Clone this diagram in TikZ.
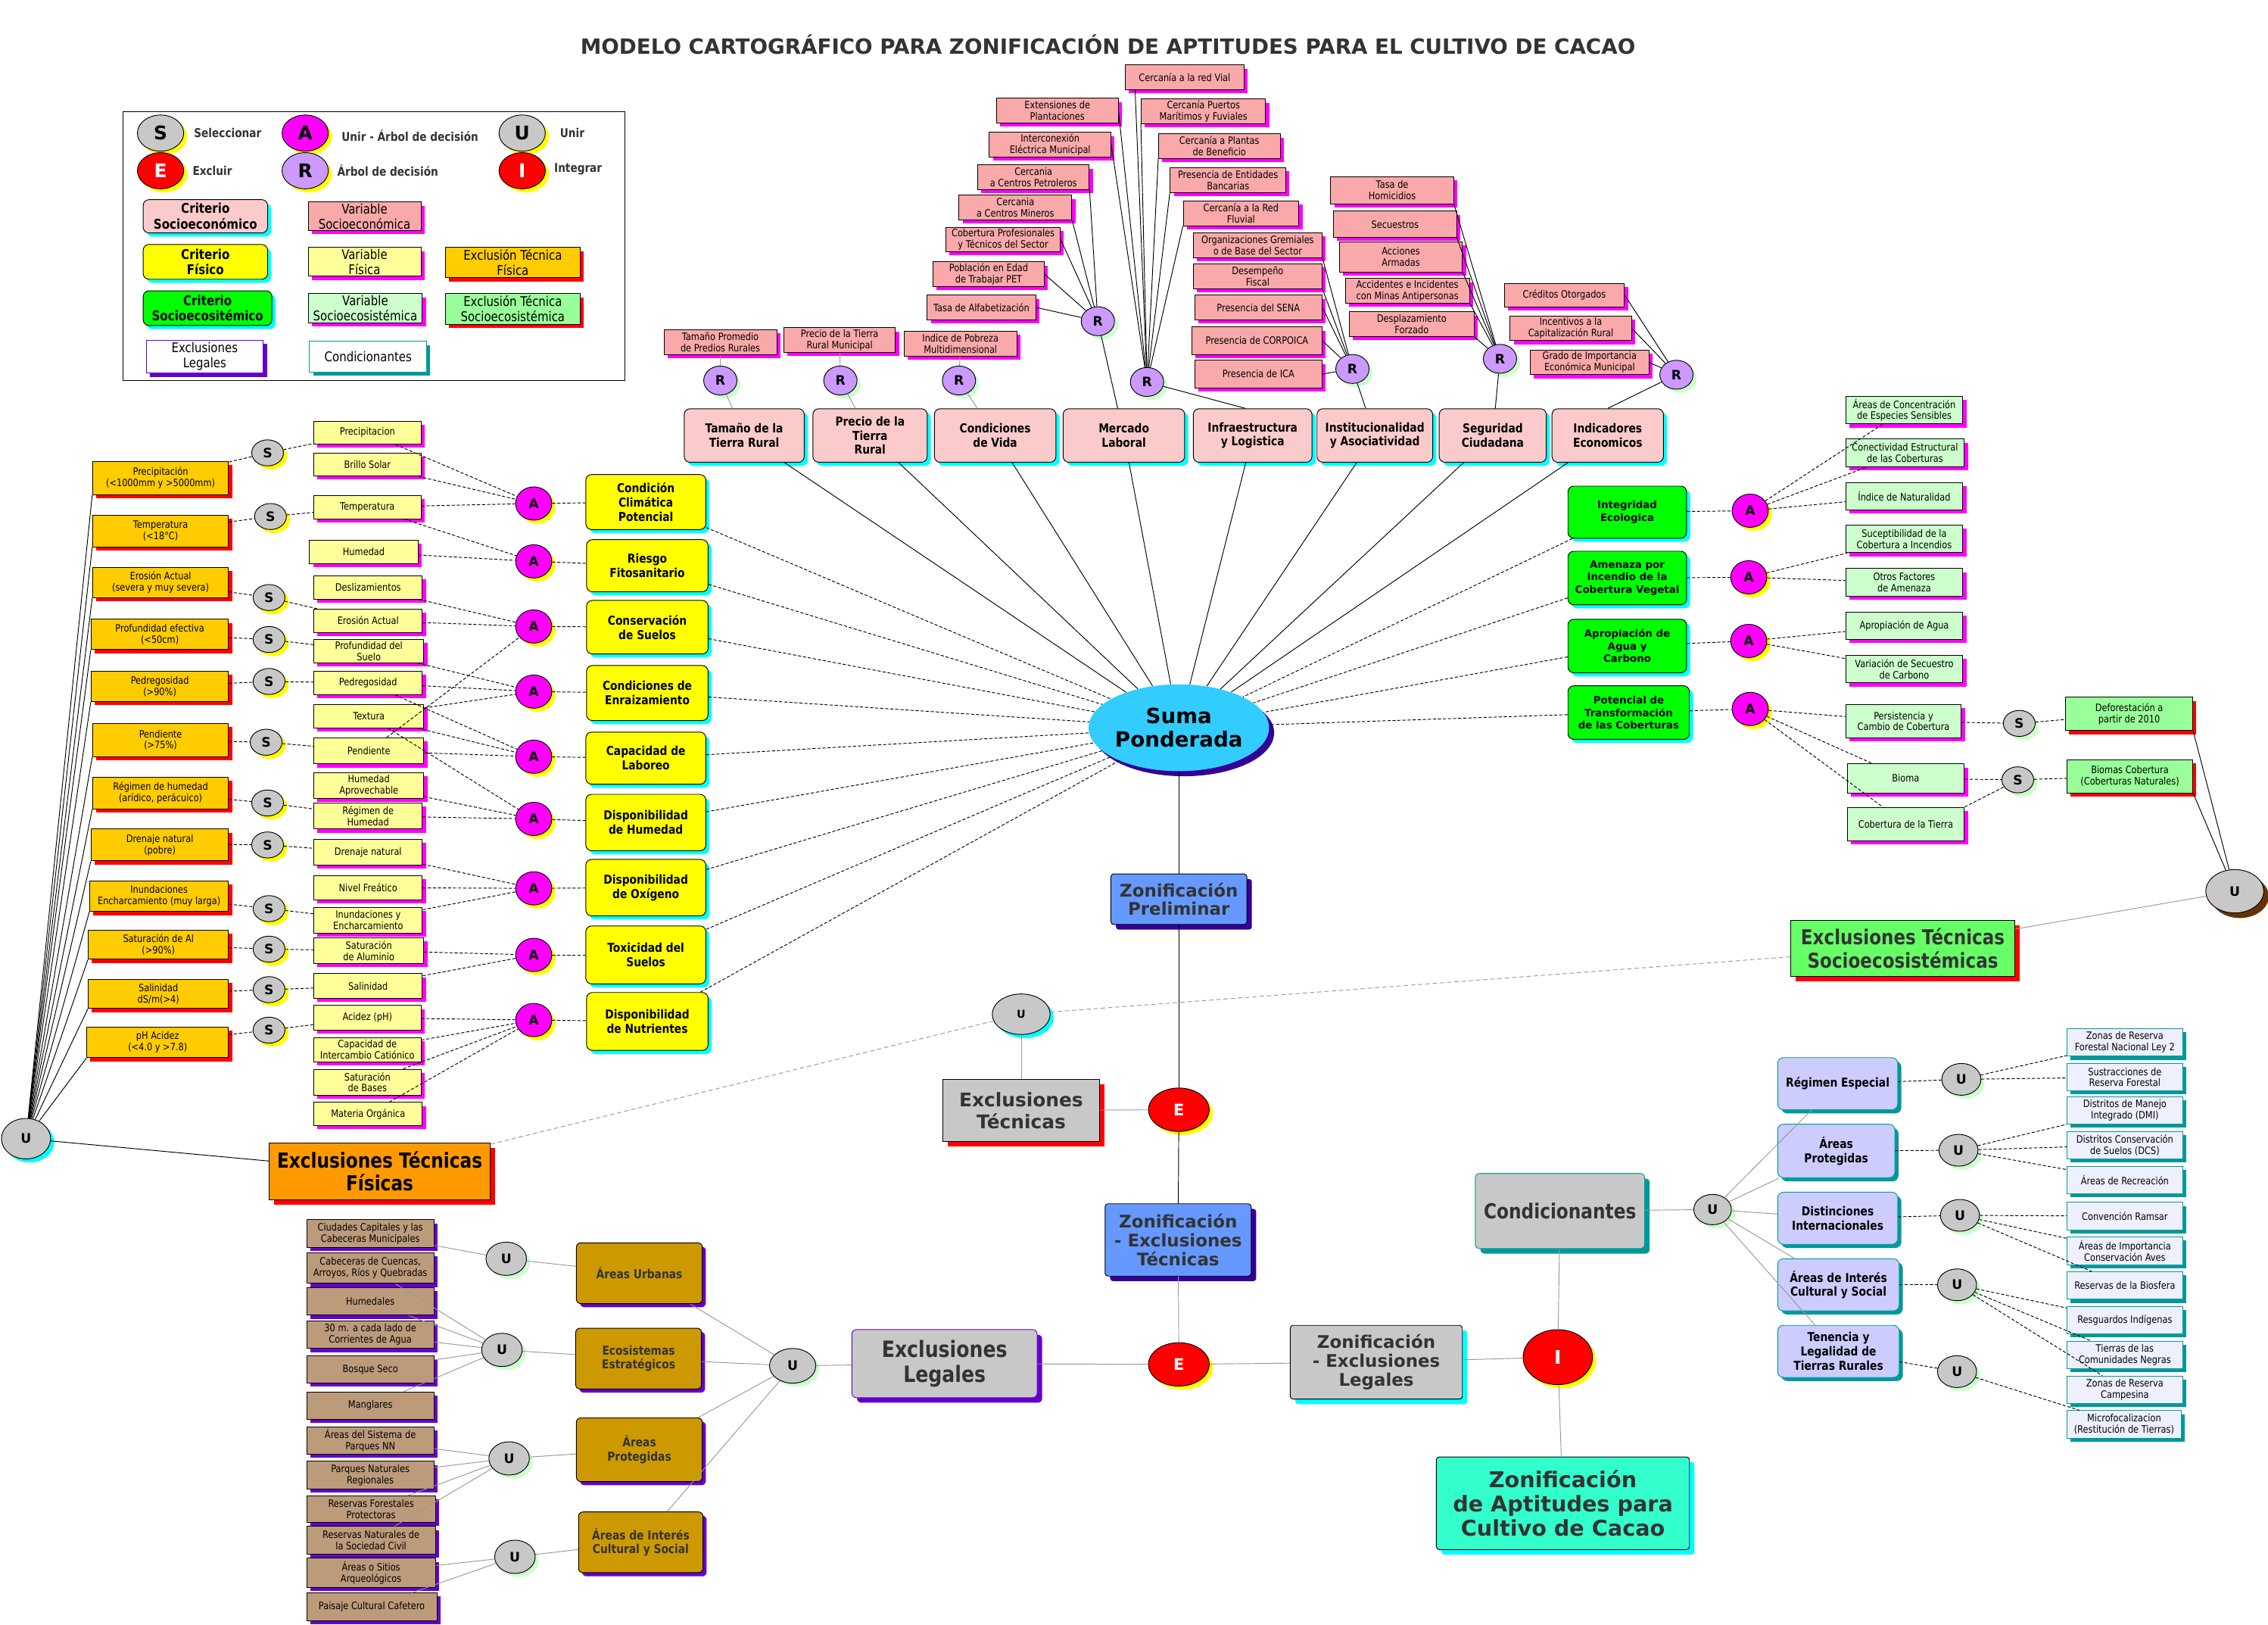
\documentclass[tikz,border=0pt]{standalone}
\usepackage{fontspec}
\setmainfont{DejaVu Sans}
\newfontfamily\narrowfont[FakeStretch=0.85]{DejaVu Sans}
\usetikzlibrary{shapes.geometric,shadows}

\definecolor{critpink}{HTML}{FBCBCB}
\definecolor{varpink}{HTML}{F9A9A9}
\definecolor{varyel}{HTML}{FFFF99}
\definecolor{excorg}{HTML}{FFCC00}
\definecolor{bigorg}{HTML}{FF9900}
\definecolor{critgrn}{HTML}{00FF00}
\definecolor{vargrn}{HTML}{CCFFCC}
\definecolor{excgrn}{HTML}{99FF99}
\definecolor{biggrn}{HTML}{66FF66}
\definecolor{critlila}{HTML}{CCCCFF}
\definecolor{varlila}{HTML}{EEF0FF}
\definecolor{critbrn}{HTML}{CC9900}
\definecolor{varbrn}{HTML}{BC9B7B}
\definecolor{nodegray}{HTML}{C8C8C8}
\definecolor{zonblue}{HTML}{6699FF}
\definecolor{finalaqua}{HTML}{33FFCC}
\definecolor{sumablue}{HTML}{33CCFF}
\definecolor{rlila}{HTML}{CC99FF}
\definecolor{shteal}{HTML}{009999}
\definecolor{shpurple}{HTML}{6600CC}
\definecolor{shnavy}{HTML}{330099}
\definecolor{shbrown}{HTML}{663300}
\definecolor{shmint}{HTML}{CCFFCC}
\definecolor{darktxt}{HTML}{333333}
\definecolor{linegray}{HTML}{999999}
\definecolor{pureyel}{HTML}{FFFF00}
\definecolor{purecyan}{HTML}{00FFFF}
\definecolor{puremag}{HTML}{FF00FF}
\definecolor{purered}{HTML}{FF0000}

\tikzset{
  shad/.style={general shadow={shadow xshift=2.5pt,shadow yshift=-2.5pt,fill=#1,draw=none}},
  shadb/.style={general shadow={shadow xshift=3.5pt,shadow yshift=-3.5pt,fill=#1,draw=none}},
  plainbox/.style={draw, line width=0.5pt, inner sep=1pt, align=center},
  smallfont/.style={font=\narrowfont\fontsize{7}{7.8}\selectfont},
  critfont/.style={font=\narrowfont\bfseries\fontsize{8.5}{9.8}\selectfont},
  pinkcrit/.style={plainbox, critfont, rounded corners=4pt, fill=critpink, shad=purecyan, minimum width=82, minimum height=37},
  pinkvar/.style={plainbox, smallfont, fill=varpink, shad=puremag, minimum width=78, minimum height=17},
  yelcrit/.style={plainbox, critfont, rounded corners=4pt, fill=pureyel, shad=purecyan, minimum width=84, minimum height=38},
  yelvar/.style={plainbox, smallfont, fill=varyel, shad=puremag, minimum width=75, minimum height=16},
  orgexc/.style={plainbox, smallfont, fill=excorg, shad=purered, minimum width=95, minimum height=21},
  grncrit/.style={plainbox, font=\bfseries\fontsize{7}{8.6}\selectfont, rounded corners=4pt, fill=critgrn, shad=purecyan, minimum width=82, minimum height=36},
  grnvar/.style={plainbox, smallfont, fill=vargrn, shad=puremag, minimum width=81, minimum height=19},
  grnexc/.style={plainbox, smallfont, fill=excgrn, shad=purered, minimum width=88, minimum height=23},
  lilcrit/.style={plainbox, critfont, draw=shteal, rounded corners=4pt, fill=critlila, shad=shteal, minimum width=83, minimum height=36},
  lilvar/.style={plainbox, smallfont, draw=shteal, fill=varlila, shad=shteal, minimum width=80, minimum height=19},
  brncrit/.style={plainbox, critfont, text=darktxt, rounded corners=3pt, fill=critbrn, shad=shpurple, minimum width=87, minimum height=42},
  brnvar/.style={plainbox, smallfont, fill=varbrn, shad=shpurple, minimum width=88, minimum height=19},
  oval/.style={ellipse, draw, line width=0.5pt, inner sep=0pt, font=\bfseries\fontsize{9}{9}\selectfont},
  snode/.style={oval, fill=nodegray, shad=pureyel, minimum width=22, minimum height=18},
  anode/.style={oval, fill=puremag, shad=pureyel, minimum width=25, minimum height=23},
  rnode/.style={oval, fill=rlila, shad=shmint, minimum width=23, minimum height=20},
  unode/.style={oval, fill=nodegray, shad=shmint, minimum width=28, minimum height=23},
  enode/.style={oval, fill=purered, text=white, shad=pureyel, minimum width=42, minimum height=30, font=\bfseries\fontsize{11}{11}\selectfont},
  legcirc/.style={oval, shad=pureyel, minimum width=32, minimum height=25, font=\bfseries\fontsize{13}{13}\selectfont},
  legtxt/.style={anchor=west, inner sep=0pt, text=darktxt, font=\narrowfont\bfseries\fontsize{8.4}{9}\selectfont},
  legfont/.style={font=\narrowfont\fontsize{9.2}{10.6}\selectfont},
  legbold/.style={font=\narrowfont\bfseries\fontsize{9.3}{10.8}\selectfont},
  zonbox/.style={plainbox, fill=zonblue, shadb=shnavy, rounded corners=2pt, text=darktxt, font=\bfseries\fontsize{12}{13}\selectfont},
  sol/.style={draw=black, line width=0.5pt},
  dsh/.style={draw=black, line width=0.5pt, dash pattern=on 2.2pt off 1.3pt},
  gry/.style={draw=linegray, line width=0.5pt},
  gdsh/.style={draw=linegray, line width=0.5pt, dash pattern=on 3pt off 2pt}
}

\begin{document}
\begin{tikzpicture}[x=1pt, y=-1pt]
\path[fill=white, use as bounding box] (0,0) rectangle (1568,1123);

\node[text=darktxt, font=\bfseries\fontsize{14.5}{16}\selectfont] (title) at (766,31) {MODELO CARTOGRÁFICO PARA ZONIFICACIÓN DE APTITUDES PARA EL CULTIVO DE CACAO};

% leyenda
\draw[line width=0.6pt] (85,77) rectangle (432,263);
\node[legcirc, fill=nodegray] (legs) at (111,92) {S};
\node[legtxt] (legsel) at (134,92) {Seleccionar};
\node[legcirc, fill=puremag] (lega) at (211,92) {A};
\node[legtxt] (leguni) at (236,94) {Unir - Árbol de decisión};
\node[legcirc, fill=nodegray] (legu) at (361,92) {U};
\node[legtxt] (legunir) at (387,92) {Unir};
\node[legcirc, fill=purered, text=white] (lege) at (111,118) {E};
\node[legtxt] (legexc) at (133,118) {Excluir};
\node[legcirc, fill=rlila] (legr) at (211,118) {R};
\node[legtxt] (legarb) at (233,118) {Árbol de decisión};
\node[legcirc, fill=purered, text=white] (legi) at (361,118) {I};
\node[legtxt] (legint) at (383,117) {Integrar};
\node[pinkcrit, legbold, minimum width=86, minimum height=23] (legcse) at (142,149.5) {Criterio\\Socioeconómico};
\node[pinkvar, legfont, minimum width=78, minimum height=19] (legvse) at (252,149.5) {Variable\\Socioeconómica};
\node[yelcrit, legbold, minimum width=86, minimum height=24] (legcfi) at (142,181) {Criterio\\Físico};
\node[yelvar, legfont, minimum width=78, minimum height=20] (legvfi) at (252,181) {Variable\\Física};
\node[orgexc, legfont, minimum width=93, minimum height=21] (legxfi) at (354.5,181.5) {Exclusión Técnica\\Física};
\node[grncrit, legbold, minimum width=89, minimum height=24] (legcso) at (143.5,213) {Criterio\\Socioecositémico};
\node[grnvar, legfont, minimum width=79, minimum height=20] (legvso) at (252.5,213) {Variable\\Socioecosistémica};
\node[grnexc, legfont, minimum width=93, minimum height=21] (legxso) at (354.5,213.5) {Exclusión Técnica\\Socioecosistémica};
\node[plainbox, legfont, draw=shpurple, fill=white, shad=shpurple, minimum width=81, minimum height=23] (legleg) at (141.5,246.5) {Exclusiones\\Legales};
\node[plainbox, legfont, draw=shteal, fill=white, shad=shteal, minimum width=81, minimum height=21] (legcon) at (254.5,246.5) {Condicionantes};

% criterios socioeconomicos
\node[pinkcrit, minimum width=83] (tamano) at (514.5,301) {Tamaño de la\\Tierra Rural};
\node[pinkcrit, minimum width=79] (precio) at (601.5,301) {Precio de la\\Tierra\\Rural};
\node[pinkcrit, minimum width=84] (condvida) at (688,301) {Condiciones\\de Vida};
\node[pinkcrit, minimum width=84] (mercado) at (777,301) {Mercado\\Laboral};
\node[pinkcrit, minimum width=82] (infra) at (866,301) {Infraestructura\\y Logistica};
\node[pinkcrit, minimum width=80] (instit) at (950.5,301) {Institucionalidad\\y Asociatividad};
\node[pinkcrit, minimum width=74] (segur) at (1032,301) {Seguridad\\Ciudadana};
\node[pinkcrit, minimum width=77] (indic) at (1111.5,301) {Indicadores\\Economicos};

\node[rnode] (rtam) at (498,263) {R};
\node[rnode] (rpre) at (581,263) {R};
\node[rnode] (rvid) at (663,263) {R};
\node[rnode] (rmer) at (759,222) {R};
\node[rnode] (rinf) at (793,264) {R};
\node[rnode] (rins) at (935,255) {R};
\node[rnode] (rseg) at (1037,248) {R};
\node[rnode] (rind) at (1159,259) {R};

\node[pinkvar] (predios) at (498,236.5) {Tamaño Promedio\\de Predios Rurales};
\node[pinkvar, minimum width=77] (preciomun) at (580.5,235) {Precio de la Tierra\\Rural Municipal};
\node[pinkvar] (pobreza) at (664,237.5) {Indice de Pobreza\\Multidimensional};
\node[pinkvar, minimum width=82] (vial) at (819,53.5) {Cercanía a la red Vial};
\node[pinkvar, minimum width=84] (extens) at (731,76.5) {Extensiones de\\Plantaciones};
\node[pinkvar, minimum width=86] (puertos) at (832,77) {Cercanía Puertos\\Marítimos y Fuviales};
\node[pinkvar, minimum width=84] (interc) at (726,100) {Interconexión\\Eléctrica Municipal};
\node[pinkvar, minimum width=84] (plantas) at (843,101) {Cercanía a Plantas\\de Beneficio};
\node[pinkvar, minimum width=77] (petrol) at (714.5,122.5) {Cercania\\a Centros Petroleros};
\node[pinkvar, minimum width=80] (bancos) at (849,124.5) {Presencia de Entidades\\Bancarias};
\node[pinkvar, minimum width=78] (miner) at (702,143.5) {Cercania\\a Centros Mineros};
\node[pinkvar, minimum width=80] (fluvial) at (858,147.5) {Cercanía a la Red\\Fluvial};
\node[pinkvar, minimum width=79] (profes) at (693.5,165.5) {Cobertura Profesionales\\y Técnicos del Sector};
\node[pinkvar, minimum width=89] (gremios) at (869.5,169.5) {Organizaciones Gremiales\\o de Base del Sector};
\node[pinkvar, minimum width=77] (pet) at (683.5,189.5) {Población en Edad\\de Trabajar PET};
\node[pinkvar, minimum width=89] (fiscal) at (869.5,191) {Desempeño\\Fiscal};
\node[pinkvar, minimum width=75] (alfab) at (678.5,212.5) {Tasa de Alfabetización};
\node[pinkvar, minimum width=88] (sena) at (870,212.5) {Presencia del SENA};
\node[pinkvar, minimum width=90, minimum height=19] (corpoica) at (869,235.5) {Presencia de CORPOICA};
\node[pinkvar, minimum width=88, minimum height=19] (ica) at (870,258.5) {Presencia de ICA};
\node[pinkvar, minimum width=85, minimum height=19] (homic) at (962.5,131.5) {Tasa de\\Homicidios};
\node[pinkvar, minimum width=85, minimum height=18] (secues) at (964.5,155) {Secuestros};
\node[pinkvar, minimum width=85, minimum height=21] (acciones) at (968.5,177.5) {Acciones\\Armadas};
\node[pinkvar, minimum width=86] (minas) at (973,201) {Accidentes e Incidentes\\con Minas Antipersonas};
\node[pinkvar, minimum width=86] (desplaz) at (976,224) {Desplazamiento\\Forzado};
\node[pinkvar, minimum width=83, minimum height=16] (creditos) at (1081.5,204) {Créditos Otorgados};
\node[pinkvar, minimum width=84] (incent) at (1086,227) {Incentivos a la\\Capitalización Rural};
\node[pinkvar, minimum width=82] (gradoimp) at (1099,250.5) {Grado de Importancia\\Económica Municipal};

% centro
\node[ellipse, fill=sumablue, shadb=shnavy, minimum width=110, minimum height=60, inner sep=0pt, align=center, font=\bfseries\fontsize{14.5}{16.5}\selectfont] (suma) at (815,503) {Suma\\Ponderada};
\node[zonbox, minimum width=94, minimum height=35] (zpre) at (815,621.5) {Zonificación\\Preliminar};
\node[enode] (e1) at (815,767) {E};
\node[zonbox, minimum width=101, minimum height=50] (ztec) at (814.5,857) {Zonificación\\- Exclusiones\\Técnicas};
\node[enode] (e2) at (815,943) {E};
\node[plainbox, fill=nodegray, shadb=purecyan, rounded corners=2pt, text=darktxt, font=\bfseries\fontsize{12}{13}\selectfont, minimum width=119, minimum height=51] (zleg) at (951.5,941.5) {Zonificación\\- Exclusiones\\Legales};
\node[enode, minimum width=48, minimum height=38, font=\bfseries\fontsize{13}{13}\selectfont] (ilast) at (1077,938) {I};
\node[plainbox, fill=finalaqua, shadb=purecyan, rounded corners=2pt, text=darktxt, font=\bfseries\fontsize{15}{17}\selectfont, minimum width=175, minimum height=64] (zfinal) at (1080.5,1039) {Zonificación\\de Aptitudes para\\Cultivo de Cacao};
\node[plainbox, fill=nodegray, shadb=purered, text=darktxt, font=\bfseries\fontsize{13}{15}\selectfont, minimum width=108, minimum height=43] (xtec) at (706,767.5) {Exclusiones\\Técnicas};
\node[oval, fill=nodegray, shad=purecyan, minimum width=40, minimum height=28, font=\bfseries\fontsize{7.5}{7.5}\selectfont] (umid) at (706,701) {U};
\node[plainbox, fill=bigorg, shadb=purered, font=\narrowfont\bfseries\fontsize{14.3}{16}\selectfont, minimum width=153, minimum height=39] (xfis) at (262.5,809.5) {Exclusiones Técnicas\\Físicas};
\node[oval, fill=nodegray, shad=purecyan, minimum width=34, minimum height=28] (ufis) at (18,787) {U};
\node[plainbox, fill=biggrn, shadb=purered, text=darktxt, font=\narrowfont\bfseries\fontsize{14.2}{16}\selectfont, minimum width=155, minimum height=39] (xsocio) at (1315.5,655.5) {Exclusiones Técnicas\\Socioecosistémicas};
\node[oval, fill=nodegray, shadb=shbrown, minimum width=40, minimum height=30] (ueco) at (1545,616) {U};
\node[plainbox, draw=shpurple, fill=nodegray, shadb=shpurple, rounded corners=3pt, text=darktxt, font=\narrowfont\bfseries\fontsize{15.5}{17.5}\selectfont, minimum width=128, minimum height=47] (xleg) at (653,942.5) {Exclusiones\\Legales};
\node[plainbox, draw=shteal, fill=nodegray, shadb=shteal, rounded corners=3pt, text=darktxt, font=\narrowfont\bfseries\fontsize{14.3}{16}\selectfont, minimum width=117, minimum height=52] (cond) at (1078.5,837) {Condicionantes};

% criterios fisicos
\node[yelcrit, minimum width=83] (cclima) at (446.5,347) {Condición\\Climática\\Potencial};
\node[yelcrit, minimum height=36] (cfito) at (447.5,391) {Riesgo\\Fitosanitario};
\node[yelcrit, minimum height=37] (csuelo) at (447.5,433.5) {Conservación\\de Suelos};
\node[yelcrit] (craiz) at (447.5,479) {Condiciones de\\Enraizamiento};
\node[yelcrit, minimum width=83, minimum height=36] (clabor) at (446.5,524) {Capacidad de\\Laboreo};
\node[yelcrit, minimum width=83, minimum height=39] (chum) at (446.5,568.5) {Disponibilidad\\de Humedad};
\node[yelcrit, minimum width=83, minimum height=39] (coxi) at (446.5,613.5) {Disponibilidad\\de Oxígeno};
\node[yelcrit, minimum width=83, minimum height=40] (ctox) at (446.5,660) {Toxicidad del\\Suelos};
\node[yelcrit, minimum height=40] (cnut) at (447.5,706) {Disponibilidad\\de Nutrientes};

\node[anode] (aclima) at (369,348) {A};
\node[anode] (afito) at (369,388) {A};
\node[anode] (asuelo) at (369,433) {A};
\node[anode] (araiz) at (369,478) {A};
\node[anode] (alabor) at (369,523) {A};
\node[anode] (ahum) at (369,566) {A};
\node[anode] (aoxi) at (369,614) {A};
\node[anode] (atox) at (369,660) {A};
\node[anode] (anut) at (369,705) {A};

\node[yelvar, minimum width=74] (vprec) at (254,299) {Precipitacion};
\node[yelvar, minimum width=74] (vbrillo) at (254,321) {Brillo Solar};
\node[yelvar, minimum width=74] (vtemp) at (254,350.5) {Temperatura};
\node[yelvar] (vhum) at (251.5,381.5) {Humedad};
\node[yelvar] (vdesl) at (254.5,406) {Deslizamientos};
\node[yelvar] (veros) at (254.5,429) {Erosión Actual};
\node[yelvar, minimum width=76] (vprof) at (255,450) {Profundidad del\\Suelo};
\node[yelvar] (vpedr) at (254.5,472) {Pedregosidad};
\node[yelvar, minimum width=76] (vtext) at (255,495) {Textura};
\node[yelvar, minimum width=76, minimum height=18] (vpend) at (255,519) {Pendiente};
\node[yelvar, minimum width=76, minimum height=18] (vhumap) at (255,543) {Humedad\\Aprovechable};
\node[yelvar, minimum height=18] (vreg) at (254.5,564) {Régimen de\\Humedad};
\node[yelvar, minimum height=18] (vdren) at (254.5,589) {Drenaje natural};
\node[yelvar, minimum height=17] (vfreat) at (254.5,613.5) {Nivel Freático};
\node[yelvar, minimum height=18] (vinund) at (254.5,636) {Inundaciones y\\Encharcamiento};
\node[yelvar, minimum width=76, minimum height=18] (valum) at (255,657) {Saturación\\de Aluminio};
\node[yelvar, minimum height=17] (vsal) at (254.5,681.5) {Salinidad};
\node[yelvar, minimum width=74, minimum height=17] (vacid) at (254,703.5) {Acidez (pH)};
\node[yelvar, minimum width=74, minimum height=17] (vcic) at (254,725.5) {Capacidad de\\Intercambio Catiónico};
\node[yelvar, minimum width=74, minimum height=18] (vbases) at (254,748) {Saturación\\de Bases};
\node[yelvar] (vmo) at (254.5,770) {Materia Orgánica};

\node[snode] (sprec) at (185,313) {S};
\node[snode] (stemp) at (187,357) {S};
\node[snode] (seros) at (186,413) {S};
\node[snode] (sprof) at (186,442) {S};
\node[snode] (spedr) at (186,471) {S};
\node[snode] (spend) at (184,513) {S};
\node[snode] (sreg) at (185,555) {S};
\node[snode] (sdren) at (185,584) {S};
\node[snode] (sinund) at (186,628) {S};
\node[snode] (salum) at (186,656) {S};
\node[snode] (ssal) at (186,684) {S};
\node[snode] (sacid) at (186,712) {S};

\node[orgexc, minimum width=94, minimum height=23] (xprec) at (111,330.5) {Precipitación\\(<1000mm y >5000mm)};
\node[orgexc, minimum width=94, minimum height=22] (xtemp) at (111,367) {Temperatura\\(<18°C)};
\node[orgexc, minimum width=94] (xeros) at (111,402.5) {Erosión Actual\\(severa y muy severa)};
\node[orgexc] (xprof) at (110.5,438.5) {Profundidad efectiva\\(<50cm)};
\node[orgexc] (xpedr) at (110.5,474.5) {Pedregosidad\\(>90\%)};
\node[orgexc, minimum width=94, minimum height=23] (xpend) at (111,511.5) {Pendiente\\(>75\%)};
\node[orgexc, minimum width=94, minimum height=22] (xreg) at (111,548) {Régimen de humedad\\(arídico, perácuico)};
\node[orgexc, minimum height=22] (xdren) at (110.5,584) {Drenaje natural\\(pobre)};
\node[orgexc, minimum width=96] (xinund) at (110,619.5) {Inundaciones\\Encharcamiento (muy larga)};
\node[orgexc, minimum width=97, minimum height=20] (xalum) at (109.5,653) {Saturación de Al\\(>90\%)};
\node[orgexc, minimum width=97, minimum height=20] (xsal) at (109.5,687) {Salinidad\\dS/m(>4)};
\node[orgexc, minimum width=98] (xacid) at (109,720.5) {pH Acidez\\(<4.0 y >7.8)};

% criterios socioecosistemicos
\node[grncrit] (gint) at (1125,354) {Integridad\\Ecologica};
\node[grncrit, minimum height=37] (gamen) at (1125,399.5) {Amenaza por\\Incendio de la\\Cobertura Vegetal};
\node[grncrit, minimum height=37] (gapro) at (1125,446.5) {Apropiación de\\Agua y\\Carbono};
\node[grncrit, minimum width=84, minimum height=37] (gpot) at (1126,492.5) {Potencial de\\Transformación\\de las Coberturas};

\node[anode] (aint) at (1210,353) {A};
\node[anode] (aamen) at (1209,399) {A};
\node[anode] (aapro) at (1209,443) {A};
\node[anode] (apot) at (1210,490) {A};

\node[grnvar] (vespec) at (1316.5,283.5) {Áreas de Concentración\\de Especies Sensibles};
\node[grnvar, minimum width=82] (vconec) at (1317,313) {Conectividad Estructural\\de las Coberturas};
\node[grnvar] (vnatur) at (1316.5,343) {Índice de Naturalidad};
\node[grnvar] (vsusc) at (1316.5,372.5) {Suceptibilidad de la\\Cobertura a Incendios};
\node[grnvar] (votros) at (1316.5,402.5) {Otros Factores\\de Amenaza};
\node[grnvar] (vagua) at (1316.5,432.5) {Apropiación de Agua};
\node[grnvar] (vcarb) at (1316.5,462.5) {Variación de Secuestro\\de Carbono};
\node[grnvar, minimum width=80, minimum height=23] (vpers) at (1316,498.5) {Persistencia y\\Cambio de Cobertura};
\node[grnvar, minimum height=20] (vbioma) at (1317.5,538) {Bioma};
\node[grnvar, minimum height=23] (vcober) at (1317.5,569.5) {Cobertura de la Tierra};

\node[snode, shad=shmint] (spers) at (1396,500) {S};
\node[snode, shad=shmint] (sbioma) at (1395,539) {S};
\node[grnexc] (xdefor) at (1472,493.5) {Deforestación a\\partir de 2010};
\node[grnexc, minimum width=87] (xbiomas) at (1472.5,536.5) {Biomas Cobertura\\(Coberturas Naturales)};

% condicionantes
\node[unode, minimum width=26, minimum height=21] (ucond) at (1184,836) {U};
\node[lilcrit] (kreg) at (1270.5,749) {Régimen Especial};
\node[lilcrit, minimum width=81, minimum height=37] (kprot) at (1269.5,795.5) {Áreas\\Protegidas};
\node[lilcrit] (kdist) at (1270.5,842) {Distinciones\\Internacionales};
\node[lilcrit, minimum width=84] (kcult) at (1271,888) {Áreas de Interés\\Cultural y Social};
\node[lilcrit, minimum width=84] (kten) at (1271,934) {Tenencia y\\Legalidad de\\Tierras Rurales};

\node[unode, minimum width=27, minimum height=22] (ukreg) at (1356,746) {U};
\node[unode, minimum width=27, minimum height=22] (ukprot) at (1354,795) {U};
\node[unode, minimum width=27, minimum height=22] (ukdist) at (1355,840) {U};
\node[unode, minimum width=27, minimum height=22] (ukcult) at (1353,888) {U};
\node[unode, minimum width=27, minimum height=22] (ukten) at (1353,948) {U};

\node[lilvar] (mley) at (1469,720.5) {Zonas de Reserva\\Forestal Nacional Ley 2};
\node[lilvar] (msust) at (1469,744.5) {Sustracciones de\\Reserva Forestal};
\node[lilvar] (mdmi) at (1469,767.5) {Distritos de Manejo\\Integrado (DMI)};
\node[lilvar] (mdcs) at (1469,791.5) {Distritos Conservación\\de Suelos (DCS)};
\node[lilvar] (mrecr) at (1469,815.5) {Áreas de Recreación};
\node[lilvar] (mramsar) at (1469,840.5) {Convención Ramsar};
\node[lilvar] (maves) at (1469,864.5) {Áreas de Importancia\\Conservación Aves};
\node[lilvar] (mbiosf) at (1469,888.5) {Reservas de la Biosfera};
\node[lilvar] (mresg) at (1469,912.5) {Resguardos Indígenas};
\node[lilvar] (mnegras) at (1469,936.5) {Tierras de las\\Comunidades Negras};
\node[lilvar] (mcamp) at (1469,960.5) {Zonas de Reserva\\Campesina};
\node[lilvar, minimum width=79] (mmicro) at (1468.5,984.5) {Microfocalizacion\\(Restitución de Tierras)};

% exclusiones legales
\node[unode, minimum width=32, minimum height=24] (uleg) at (548,944) {U};
\node[brncrit] (lurb) at (442,880) {Áreas Urbanas};
\node[brncrit] (leco) at (441.5,939) {Ecosistemas\\Estratégicos};
\node[brncrit, minimum height=44] (lprot) at (442,1002) {Áreas\\Protegidas};
\node[brncrit, minimum width=86] (lcult) at (443,1066) {Áreas de Interés\\Cultural y Social};

\node[unode] (ulurb) at (350,870) {U};
\node[unode] (uleco) at (347,933) {U};
\node[unode] (ulprot) at (352,1008) {U};
\node[unode] (ulcult) at (356,1076) {U};

\node[brnvar] (lciud) at (256,852.5) {Ciudades Capitales y las\\Cabeceras Municipales};
\node[brnvar, minimum height=21] (lcuenc) at (256,876.5) {Cabeceras de Cuencas,\\Arroyos, Ríos y Quebradas};
\node[brnvar] (lhumed) at (256,899.5) {Humedales};
\node[brnvar] (ltreinta) at (256,922.5) {30 m. a cada lado de\\Corrientes de Agua};
\node[brnvar] (lbosq) at (256,946.5) {Bosque Seco};
\node[brnvar] (lmangl) at (256,971.5) {Manglares};
\node[brnvar] (lparq) at (256,995.5) {Áreas del Sistema de\\Parques NN};
\node[brnvar] (lparqreg) at (256,1019.5) {Parques Naturales\\Regionales};
\node[brnvar, minimum width=89, minimum height=18] (lresfor) at (256.5,1043) {Reservas Forestales\\Protectoras};
\node[brnvar, minimum width=89] (lresnat) at (256.5,1064.5) {Reservas Naturales de\\la Sociedad Civil};
\node[brnvar, minimum width=89, minimum height=20] (larq) at (256.5,1087) {Áreas o Sitios\\Arqueológicos};
\node[brnvar, minimum width=90] (lpais) at (257,1110.5) {Paisaje Cultural Cafetero};

% conectores socioeconomicos
\path[gry] (predios) edge (rtam) (rtam) edge (tamano)
  (preciomun) edge (rpre) (rpre) edge (precio)
  (pobreza) edge (rvid) (rvid) edge (condvida);
\path[sol] (petrol.south east) edge (rmer) (miner.south east) edge (rmer)
  (profes.east) edge (rmer) (pet.east) edge (rmer) (alfab.east) edge (rmer)
  (rmer) edge (mercado);
\path[sol] ([xshift=7pt]vial.south west) edge (rinf) (extens.east) edge (rinf)
  (interc.east) edge (rinf) (puertos.south west) edge (rinf)
  (plantas.south west) edge (rinf) (bancos.south west) edge (rinf)
  (fluvial.south west) edge (rinf) (rinf) edge ([xshift=-5pt]infra.north);
\path[sol] (gremios.south east) edge (rins) (fiscal.south east) edge (rins)
  (sena.east) edge (rins) (corpoica.east) edge (rins) (ica.east) edge (rins)
  (rins) edge (instit);
\path[sol] (homic.south east) edge (rseg) (secues.south east) edge (rseg)
  (acciones.south east) edge (rseg) (minas.south east) edge (rseg)
  (desplaz.south east) edge (rseg) (rseg) edge (segur);
\path[sol] (creditos.east) edge (rind) (incent.east) edge (rind)
  (gradoimp.east) edge (rind) (rind) edge (indic.north);
\path[sol] (tamano) edge (suma) (precio) edge (suma) (condvida) edge (suma)
  (mercado) edge (suma) (infra) edge (suma) (instit) edge (suma)
  (segur) edge (suma) (indic) edge (suma);

% conectores fisicos
\path[dsh] (cclima) edge (suma) (cfito) edge (suma) (csuelo) edge (suma)
  (craiz) edge (suma) (clabor) edge (suma) (chum) edge (suma)
  (coxi) edge (suma) (ctox) edge (suma) (cnut) edge (suma);
\path[dsh] (aclima) edge (cclima) (afito) edge (cfito) (asuelo) edge (csuelo)
  (araiz) edge (craiz) (alabor) edge (clabor) (ahum) edge (chum)
  (aoxi) edge (coxi) (atox) edge (ctox) (anut) edge (cnut);
\path[dsh] (vprec) edge (aclima) (vbrillo) edge (aclima) (vtemp) edge (aclima)
  (vtemp) edge (afito) (vhum) edge (afito)
  (vdesl) edge (asuelo) (veros) edge (asuelo) (vpend) edge (asuelo)
  (vprof) edge (araiz) (vpedr) edge (araiz) (vtext) edge (araiz)
  (vpedr) edge (alabor) (vtext) edge (alabor) (vpend) edge (alabor)
  (vtext) edge (ahum) (vhumap) edge (ahum) (vreg) edge (ahum)
  (vdren) edge (aoxi) (vfreat) edge (aoxi) (vinund) edge (aoxi)
  (valum) edge (atox) (vsal) edge (atox)
  (vacid) edge (anut) (vcic) edge (anut) (vbases) edge (anut) (vmo) edge (anut);
\path[dsh] (xprec) edge (sprec) (sprec) edge (vprec)
  (xtemp) edge (stemp) (stemp) edge (vtemp)
  (xeros) edge (seros) (seros) edge (veros)
  (xprof) edge (sprof) (sprof) edge (vprof)
  (xpedr) edge (spedr) (spedr) edge (vpedr)
  (xpend) edge (spend) (spend) edge (vpend)
  (xreg) edge (sreg) (sreg) edge (vreg)
  (xdren) edge (sdren) (sdren) edge (vdren)
  (xinund) edge (sinund) (sinund) edge (vinund)
  (xalum) edge (salum) (salum) edge (valum)
  (xsal) edge (ssal) (ssal) edge (vsal)
  (xacid) edge (sacid) (sacid) edge (vacid);
\path[sol] (xprec.south west) edge (ufis) (xtemp.south west) edge (ufis)
  (xeros.south west) edge (ufis) (xprof.south west) edge (ufis)
  (xpedr.south west) edge (ufis) (xpend.south west) edge (ufis)
  (xreg.south west) edge (ufis) (xdren.south west) edge (ufis)
  (xinund.south west) edge (ufis) (xalum.south west) edge (ufis)
  (xsal.south west) edge (ufis) (xacid.south west) edge (ufis)
  (ufis) edge (xfis);

% conectores socioecosistemicos
\path[dsh] (gint) edge (suma) (gamen) edge (suma) (gapro) edge (suma) (gpot) edge (suma);
\path[dsh] (gint) edge (aint) (gamen) edge (aamen) (gapro) edge (aapro) (gpot) edge (apot)
  (aint) edge (vespec) (aint) edge (vconec) (aint) edge (vnatur)
  (aamen) edge (vsusc) (aamen) edge (votros)
  (aapro) edge (vagua) (aapro) edge (vcarb)
  (apot) edge (vpers) (apot) edge (vbioma) (apot) edge (vcober)
  (vpers) edge (spers) (spers) edge (xdefor)
  (vbioma) edge (sbioma) (vcober.north east) edge (sbioma) (sbioma) edge (xbiomas);
\path[sol] (xdefor.south east) edge (ueco) (xbiomas.south east) edge (ueco);
\path[gry] (ueco) edge (xsocio);

% flujo central
\path[gdsh] (xfis) edge (umid) (xsocio) edge (umid);
\path[gry] (umid) edge (xtec) (xtec) edge (e1);
\path[sol] (suma) edge (zpre) (zpre) edge (e1) (e1) edge (ztec);
\path[gry] (ztec) edge (e2) (xleg) edge (e2) (e2) edge (zleg)
  (zleg) edge (ilast) (cond) edge (ilast) (ilast) edge (zfinal);

% conectores condicionantes
\path[gry] (cond) edge (ucond) (ucond) edge (kreg) (ucond) edge (kprot)
  (ucond) edge (kdist) (ucond) edge (kcult) (ucond) edge (kten);
\path[dsh] (kreg) edge (ukreg) (kprot) edge (ukprot) (kdist) edge (ukdist)
  (kcult) edge (ukcult) (kten) edge (ukten)
  (ukreg) edge (mley) (ukreg) edge (msust)
  (ukprot) edge (mdmi) (ukprot) edge (mdcs) (ukprot) edge (mrecr)
  (ukdist) edge (mramsar) (ukdist) edge (maves) (ukdist) edge (mbiosf)
  (ukcult) edge (mresg) (ukcult) edge (mnegras) (ukcult) edge (mcamp)
  (ukten) edge (mmicro);

% conectores exclusiones legales
\path[gry] (uleg) edge (xleg) (lurb) edge (uleg) (leco) edge (uleg)
  (lprot) edge (uleg) (lcult) edge (uleg)
  (ulurb) edge (lurb) (uleco) edge (leco) (ulprot) edge (lprot) (ulcult) edge (lcult)
  (lciud) edge (ulurb)
  (lcuenc) edge (uleco) (lhumed) edge (uleco) (ltreinta) edge (uleco)
  (lbosq) edge (uleco) (lmangl) edge (uleco)
  (lparq) edge (ulprot) (lparqreg) edge (ulprot) (lresfor) edge (ulprot) (lresnat) edge (ulprot)
  (larq) edge (ulcult) (lpais) edge (ulcult);
\end{tikzpicture}
\end{document}
